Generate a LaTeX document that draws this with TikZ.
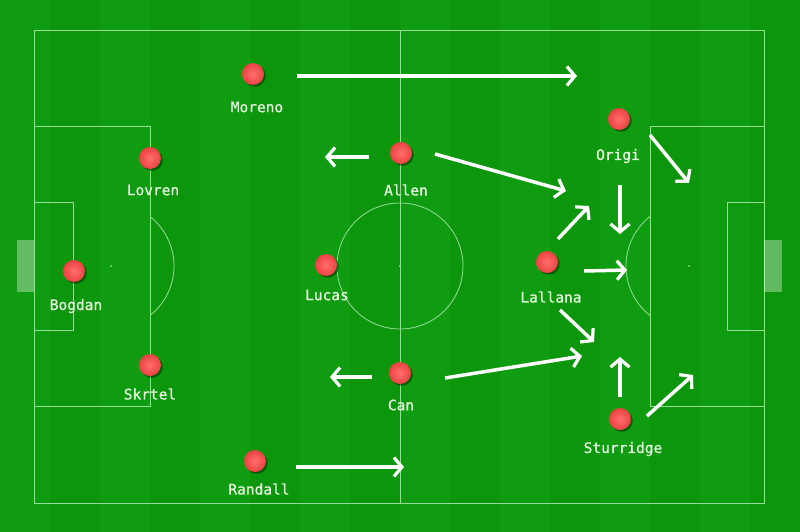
\documentclass[tikz,border=0pt]{standalone}
\usepackage{fontspec}
\newfontfamily\namefont[FakeBold=0.8]{DejaVu Sans Mono}
\usetikzlibrary{arrows.meta, shadows}
\definecolor{turf}{RGB}{12,150,12}
\definecolor{turflight}{RGB}{16,156,16}
\definecolor{ballred}{RGB}{238,66,66}
\definecolor{ballhi}{RGB}{255,110,110}
\definecolor{chalk}{RGB}{150,222,150}
\definecolor{inkname}{RGB}{228,246,222}
\tikzstyle{player} = [circle, minimum size = 22pt, inner sep = 0pt, shading = radial, inner color = ballhi, outer color = ballred, drop shadow = {shadow xshift = 1.8pt, shadow yshift = -1.8pt, opacity = 0.6, fill = black!80!green}]
\tikzstyle{pname} = [text = inkname, font = \namefont\fontsize{14.5}{16}\selectfont, inner sep = 0pt]
\tikzstyle{pitchline} = [draw = chalk, line width = 0.8pt]
\tikzstyle{arrow} = [draw = white, line width = 3.5pt, -{Straight Barb[length = 8pt, width = 19pt, line width = 3.2pt]}]

\begin{document}
\begin{tikzpicture}[x = 1pt, y = -1pt]
    \useasboundingbox (0,0) rectangle (800,532);
    % turf with stripes
    \fill[turf] (0,0) rectangle (800,532);
    \foreach \i in {0,2,...,14}
        \fill[turflight] (\i*50,0) rectangle ++(50,532);

    % pitch markings
    \draw[pitchline] (34,30) rectangle (764,503);
    \draw[pitchline] (400,30) -- (400,503);
    \draw[pitchline] (400,266) circle (63);
    \draw[pitchline] (34,126) rectangle (150,406);
    \draw[pitchline] (34,202) rectangle (73,330);
    \draw[pitchline] (650,126) rectangle (764,406);
    \draw[pitchline] (727,202) rectangle (764,330);
    \begin{scope}
        \clip (150,0) rectangle (400,532);
        \draw[pitchline] (111,266) circle (63);
    \end{scope}
    \begin{scope}
        \clip (400,0) rectangle (650,532);
        \draw[pitchline] (689,266) circle (63);
    \end{scope}
    \fill[chalk] (111,266) circle (1) (400,266) circle (1.2) (689,266) circle (1);
    \fill[white, opacity = 0.35] (17,240) rectangle (34,292);
    \fill[white, opacity = 0.35] (764,240) rectangle (782,292);

    % \node(label)[style]{text};
    \node(moreno)[player] at (253,74){};
    \node(lovren)[player] at (150,158){};
    \node(bogdan)[player] at (74,271){};
    \node(skrtel)[player] at (150,365){};
    \node(randall)[player] at (255,461){};
    \node(lucas)[player] at (326,265){};
    \node(allen)[player] at (401,153){};
    \node(can)[player] at (400,373){};
    \node(lallana)[player] at (547,262){};
    \node(origi)[player] at (619,119){};
    \node(sturridge)[player] at (620,419){};

    \node(morenoname)[pname] at (257,107){Moreno};
    \node(lovrenname)[pname] at (153,190){Lovren};
    \node(bogdanname)[pname] at (76,306){Bogdan};
    \node(skrtelname)[pname] at (150,394){Skrtel};
    \node(randallname)[pname] at (259,489){Randall};
    \node(lucasname)[pname] at (327,295){Lucas};
    \node(allenname)[pname] at (406,190){Allen};
    \node(canname)[pname] at (401,405){Can};
    \node(lallananame)[pname] at (551,297){Lallana};
    \node(originame)[pname] at (618,156){Origi};
    \node(sturridgename)[pname] at (623,449){Sturridge};

    % runs
    \coordinate(run1a) at (297,76);   \coordinate(run1b) at (577,76);
    \coordinate(run2a) at (369,157);  \coordinate(run2b) at (325,157);
    \coordinate(run3a) at (435,154);  \coordinate(run3b) at (566,191);
    \coordinate(run4a) at (558,239);  \coordinate(run4b) at (589,206);
    \coordinate(run5a) at (620,185);  \coordinate(run5b) at (620,234);
    \coordinate(run6a) at (650,135);  \coordinate(run6b) at (689,183);
    \coordinate(run7a) at (584,271);  \coordinate(run7b) at (627,270);
    \coordinate(run8a) at (560,310);  \coordinate(run8b) at (594,342);
    \coordinate(run9a) at (372,377);  \coordinate(run9b) at (330,377);
    \coordinate(run10a) at (445,378); \coordinate(run10b) at (582,356);
    \coordinate(run11a) at (620,397); \coordinate(run11b) at (620,357);
    \coordinate(run12a) at (647,416); \coordinate(run12b) at (693,375);
    \coordinate(run13a) at (296,467); \coordinate(run13b) at (404,467);

    \foreach \r in {1,...,13}
        \draw[arrow](run\r a)--(run\r b);
\end{tikzpicture}
\end{document}
